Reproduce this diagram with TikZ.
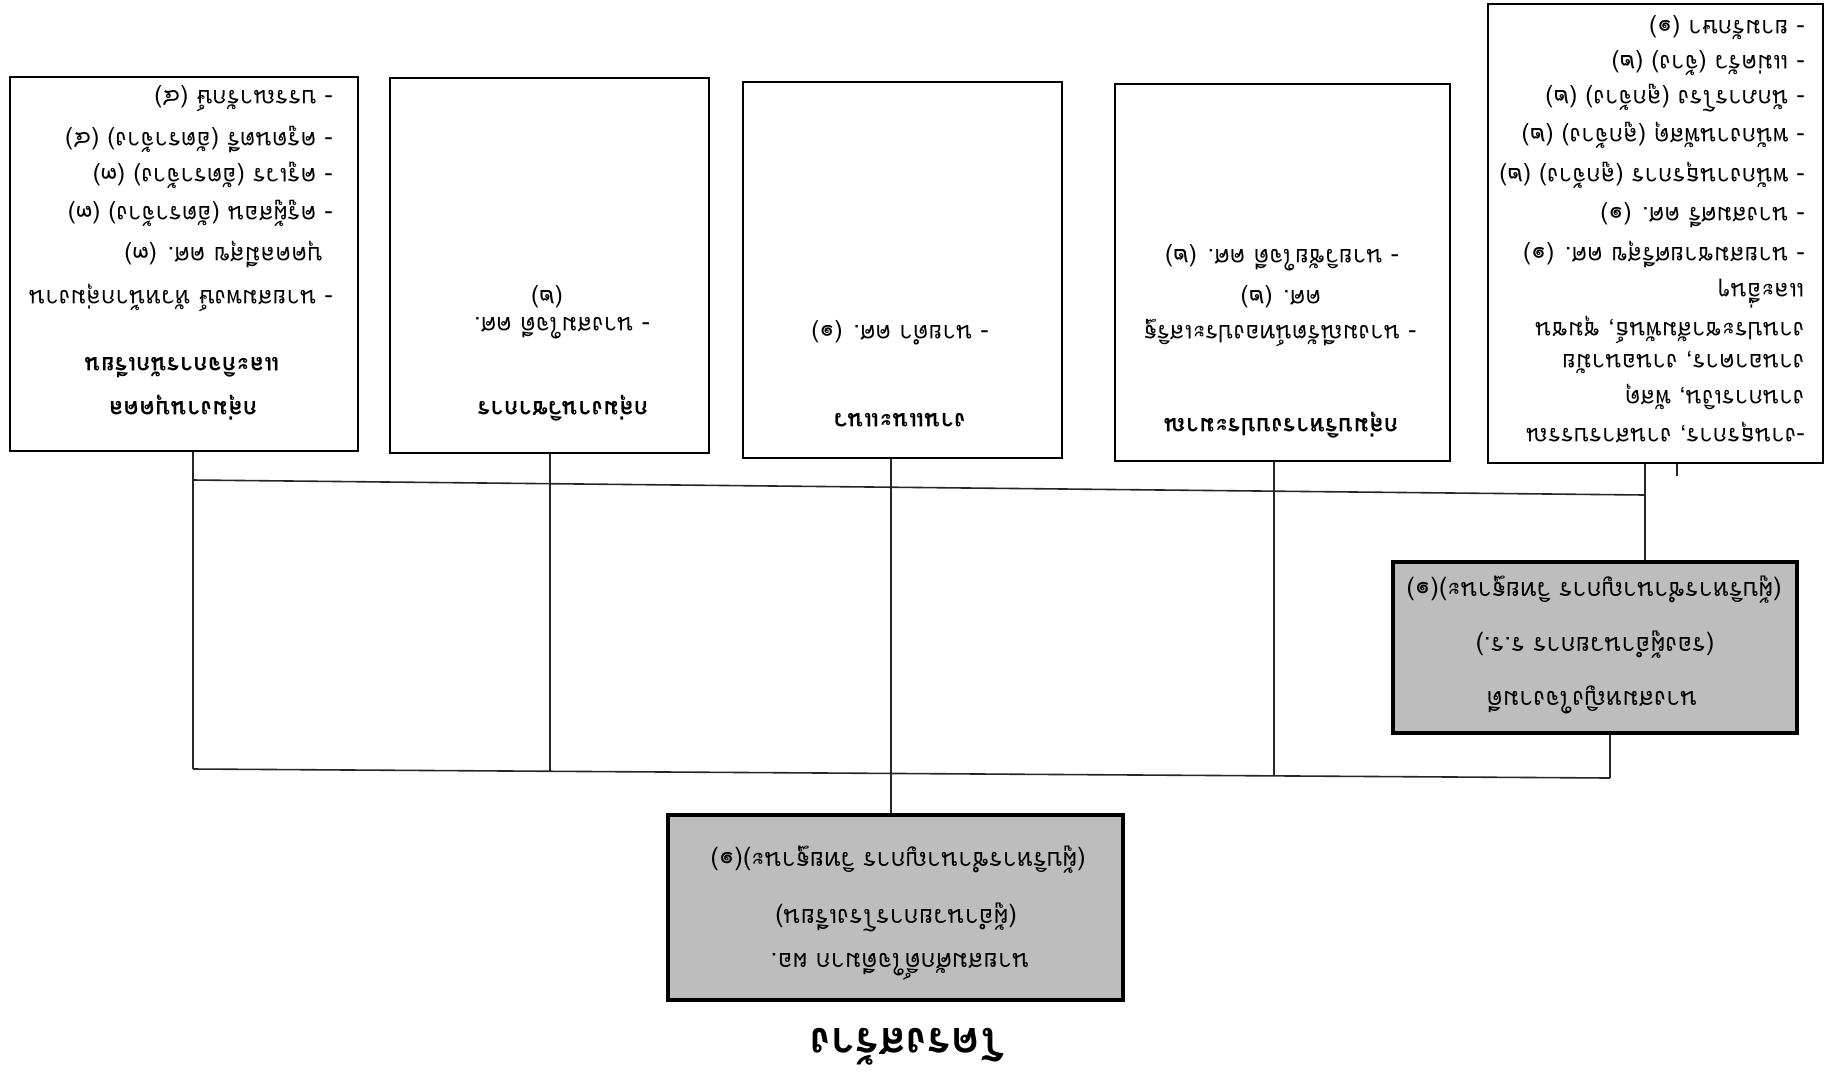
\documentclass[tikz,border=0pt]{standalone}
\usepackage{fontspec}
\newfontfamily\thai[Script=Thai]{Loma}
\begin{document}
\begin{tikzpicture}[x=0.5pt,y=-0.5pt,
  box/.style={draw=black,line width=1.1pt,rectangle,inner sep=0pt},
  gbox/.style={draw=black,line width=1.6pt,fill=black!26,rectangle,inner sep=0pt},
  conn/.style={draw=black!85,line width=0.8pt},
  t/.style={font=\thai\fontsize{12}{14}\selectfont,rotate=180,inner sep=0pt},
  tr/.style={t,anchor=west},
  tb/.style={t,font=\thai\bfseries\fontsize{12}{14}\selectfont},
  tg/.style={t,font=\thai\fontsize{12.5}{14}\selectfont},
  ttl/.style={t,font=\thai\bfseries\fontsize{22}{26}\selectfont},
]
\useasboundingbox (0,0) rectangle (1826,1078);
\fill[white] (0,0) rectangle (1826,1078);

% department boxes
\node[box,minimum width=174pt,minimum height=187pt] (b1) at (184,264) {};
\node[box,minimum width=159.5pt,minimum height=187.5pt] (b2) at (549.5,265.5) {};
\node[box,minimum width=159.5pt,minimum height=188pt] (b3) at (902.5,270) {};
\node[box,minimum width=167.5pt,minimum height=188.5pt] (b4) at (1282.5,272.5) {};
\node[box,minimum width=167.5pt,minimum height=229.5pt] (b5) at (1655.5,233.5) {};
% gray boxes
\node[gbox,minimum width=202pt,minimum height=85.5pt] (g1) at (1595,647.5) {};
\node[gbox,minimum width=227.5pt,minimum height=92.5pt] (g0) at (895.5,907.5) {};

% connectors
\coordinate (a1) at (193,480);
\coordinate (a5) at (1645,495);
\coordinate (c1) at (193,769);
\coordinate (c2) at (550,771);
\coordinate (c3) at (891,773);
\coordinate (c4) at (1274,776);
\coordinate (c6) at (1610,778);
\coordinate (k5) at (1677,476);
\draw[conn] (a1) -- (a5);
\draw[conn] (c1) -- (c6);
\draw[conn] (b1.south -| a1) -- (c1);
\draw[conn] (b2.south -| c2) -- (c2);
\draw[conn] (b3.south -| c3) -- (g0.north -| c3);
\draw[conn] (b4.south -| c4) -- (c4);
\draw[conn] (b5.south -| a5) -- (g1.north -| a5);
\draw[conn] (g1.south -| c6) -- (c6);
\draw[conn] (b5.south -| k5) -- (k5);

% box 1 texts
\node[tb] (b1h1) at (183,408) {กลุ่มงานบุคคล};
\node[tb] (b1h2) at (182,368) {และกิจการนักเรียน};
\node[tr] (b1l1) at (333,298) {- นายสมพงษ์ หัวหน้ากลุ่มงาน};
\node[tr] (b1l2) at (323,255) {บุคคลมีสุข คศ. (๓)};
\node[tr] (b1l3) at (333,213) {- ครูผู้สอน (อัตราจ้าง) (๓)};
\node[tr] (b1l4) at (333,175) {- ครูเวร (อัตราจ้าง) (๓)};
\node[tr] (b1l5) at (333,140) {- ครูดนตรี (อัตราจ้าง) (๔)};
\node[tr] (b1l6) at (333,98) {- บรรณารักษ์ (๔)};

% box 2 texts
\node[tb] (b2h) at (563,408) {กลุ่มงานวิชาการ};
\node[t] (b2l1) at (562,328) {- นางสมใจดี คศ.};
\node[t] (b2l2) at (547,297) {(๒)};

% box 3 texts
\node[tb] (b3h) at (900,420) {งานแนะแนว};
\node[t] (b3l1) at (900,333) {- นายดำ คศ. (๑)};

% box 4 texts
\node[tb] (b4h) at (1281,425) {กลุ่มบริหารงบประมาณ};
\node[t] (b4l1) at (1280,333) {- นางมณีรัตน์ทองประเสริฐ};
\node[t] (b4l2) at (1281,297) {คศ. (๒)};
\node[t] (b4l3) at (1282,258) {- นายวิชัยใจดี คศ. (๒)};

% box 5 texts
\node[tr] (b5l1) at (1805,432) {-งานธุรการ, งานสารบรรณ};
\node[tr] (b5l2) at (1805,397) {งานการเงิน, พัสดุ};
\node[tr] (b5l3) at (1805,362) {งานอาคาร, งานอนามัย};
\node[tr] (b5l4) at (1805,330) {งานประชาสัมพันธ์, ชุมชน};
\node[tr] (b5l5) at (1805,294) {และอื่นๆ};
\node[tr] (b5l6) at (1805,255) {- นายสมชายศรีสุข คศ. (๑)};
\node[tr] (b5l7) at (1805,215) {- นางสมศรี คศ. (๑)};
\node[tr] (b5l8) at (1805,175) {- พนักงานธุรการ (ลูกจ้าง) (๒)};
\node[tr] (b5l9) at (1805,135) {- พนักงานพัสดุ (ลูกจ้าง) (๒)};
\node[tr] (b5l10) at (1805,98) {- นักภารโรง (ลูกจ้าง) (๒)};
\node[tr] (b5l11) at (1805,63) {- แม่ครัว (จ้าง) (๒)};
\node[tr] (b5l12) at (1805,28) {- ยามรักษา (๑)};

% right gray box texts
\node[tg] (g1l1) at (1592,700) {นางสมหญิงใจงามดี};
\node[tg] (g1l2) at (1595,645) {(รองผู้อำนวยการ ร.ร.)};
\node[tg] (g1l3) at (1594,590) {(ผู้บริหารชำนาญการ วิทยฐานะ)(๑)};

% center gray box texts
\node[tg] (g0l1) at (900,967) {นายสมศักดิ์ใจดีมาก ผอ.};
\node[tg] (g0l2) at (896,917) {(ผู้อำนวยการโรงเรียน)};
\node[tg] (g0l3) at (898,860) {(ผู้บริหารชำนาญการ วิทยฐานะ)(๑)};

% title
\node[ttl] (title) at (907,1047) {โครงสร้าง};
\end{tikzpicture}
\end{document}
